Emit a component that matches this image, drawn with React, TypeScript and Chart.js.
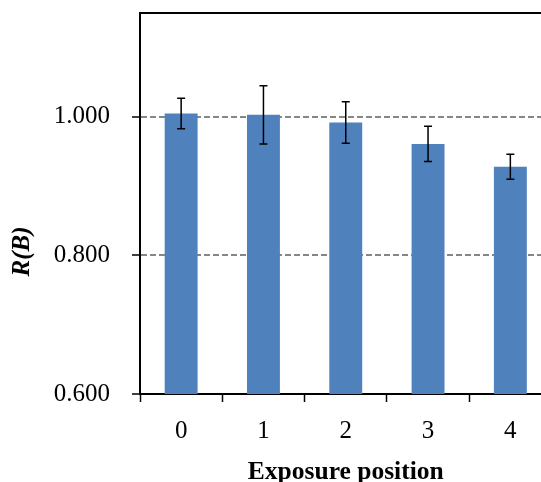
import React, { useEffect, useRef } from "react";
import { Chart, registerables } from "chart.js";

Chart.register(...registerables);

const categories = ["0", "1", "2", "3", "4"];
const values = [1.005, 1.003, 0.992, 0.961, 0.928];
const errors = [0.022, 0.042, 0.030, 0.0255, 0.018];
const yTicks = [0.6, 0.8, 1.0];
const yMin = 0.6;
const yMax = 1.15;
const xTitle = "Exposure position";
const yTitle = "R(B)";

const FONT = '"Liberation Serif", "Times New Roman", serif';

export default function App() {
  const ref = useRef<HTMLCanvasElement | null>(null);

  useEffect(() => {
    if (!ref.current) return;

    const errorBars = {
      id: "errorBars",
      afterDatasetsDraw(chart: any) {
        const ctx = chart.ctx;
        const meta = chart.getDatasetMeta(0);
        const ys = chart.scales.y;
        ctx.save();
        ctx.strokeStyle = "#000";
        ctx.lineWidth = 1.5;
        meta.data.forEach((bar: any, i: number) => {
          const x = bar.x;
          const t = ys.getPixelForValue(values[i] + errors[i]);
          const b = ys.getPixelForValue(values[i] - errors[i]);
          ctx.beginPath();
          ctx.moveTo(x, t);
          ctx.lineTo(x, b);
          ctx.moveTo(x - 4, t);
          ctx.lineTo(x + 4, t);
          ctx.moveTo(x - 4, b);
          ctx.lineTo(x + 4, b);
          ctx.stroke();
        });
        ctx.restore();
      },
    };

    const frame = {
      id: "frame",
      afterDraw(chart: any) {
        const { ctx, chartArea } = chart;
        ctx.save();
        ctx.strokeStyle = "#000";
        ctx.lineWidth = 2;
        ctx.beginPath();
        ctx.moveTo(chartArea.left - 1, chartArea.top);
        ctx.lineTo(chartArea.right, chartArea.top);
        ctx.lineTo(chartArea.right, chartArea.bottom);
        ctx.stroke();
        // y title
        ctx.translate(chartArea.left - 117, (chartArea.top + chartArea.bottom) / 2 + 48);
        ctx.rotate(-Math.PI / 2);
        ctx.fillStyle = "#000";
        ctx.font = `bold italic 25px ${FONT}`;
        ctx.textAlign = "center";
        ctx.textBaseline = "middle";
        ctx.fillText(yTitle, 0, 0);
        ctx.restore();
      },
    };

    const chart = new Chart(ref.current, {
      type: "bar",
      data: {
        labels: categories,
        datasets: [
          {
            data: values,
            backgroundColor: "#4F81BD",
            borderWidth: 0,
            barPercentage: 0.4,
            categoryPercentage: 1,
          },
        ],
      },
      options: {
        responsive: false,
        animation: false,
        devicePixelRatio: 1,
        layout: { padding: { top: 13, right: 18.5, left: 0, bottom: 0 } },
        plugins: {
          legend: { display: false },
          tooltip: { enabled: false },
        },
        scales: {
          x: {
            type: "category",
            afterFit(scale: any) {
              scale.height = 106;
              scale.paddingLeft = 0;
              scale.paddingRight = 0;
            },
            grid: {
              offset: true,
              drawOnChartArea: false,
              drawTicks: true,
              tickLength: 8,
              tickColor: "#000",
              tickWidth: 1.5,
            },
            border: { display: true, color: "#000", width: 2 },
            ticks: {
              color: "#000",
              font: { family: FONT, size: 25 },
              padding: 14,
            },
            title: {
              display: true,
              text: xTitle,
              color: "#000",
              font: { family: FONT, size: 25.5, weight: "bold" },
              padding: { top: 0, bottom: 12 },
            },
          },
          y: {
            type: "linear",
            min: yMin,
            max: yMax,
            afterBuildTicks(scale: any) {
              scale.ticks = yTicks.map((v) => ({ value: v }));
            },
            afterFit(scale: any) {
              scale.width = 140;
              scale.paddingTop = 0;
              scale.paddingBottom = 0;
            },
            grid: {
              color: (c: any) => (c.tick && Math.abs(c.tick.value - yMin) < 1e-9 ? "rgba(0,0,0,0)" : "#868686"),
              lineWidth: 2,
              drawTicks: true,
              tickLength: 8,
              tickColor: "#000",
              tickWidth: 1.5,
              tickBorderDash: [],
            },
            border: { display: true, color: "#000", width: 2, dash: [6, 3] },
            ticks: {
              color: "#000",
              font: { family: FONT, size: 25 },
              padding: 22,
              callback: (v: any) => Number(v).toFixed(3),
            },
          },
        },
      },
      plugins: [errorBars, frame],
    } as any);

    return () => chart.destroy();
  }, []);

  return (
    <div
      style={{
        position: "fixed",
        left: 0,
        top: 0,
        width: 541,
        height: 482,
        overflow: "hidden",
        background: "#fff",
      }}
    >
      <canvas ref={ref} width={570} height={500} style={{ display: "block" }} />
    </div>
  );
}
